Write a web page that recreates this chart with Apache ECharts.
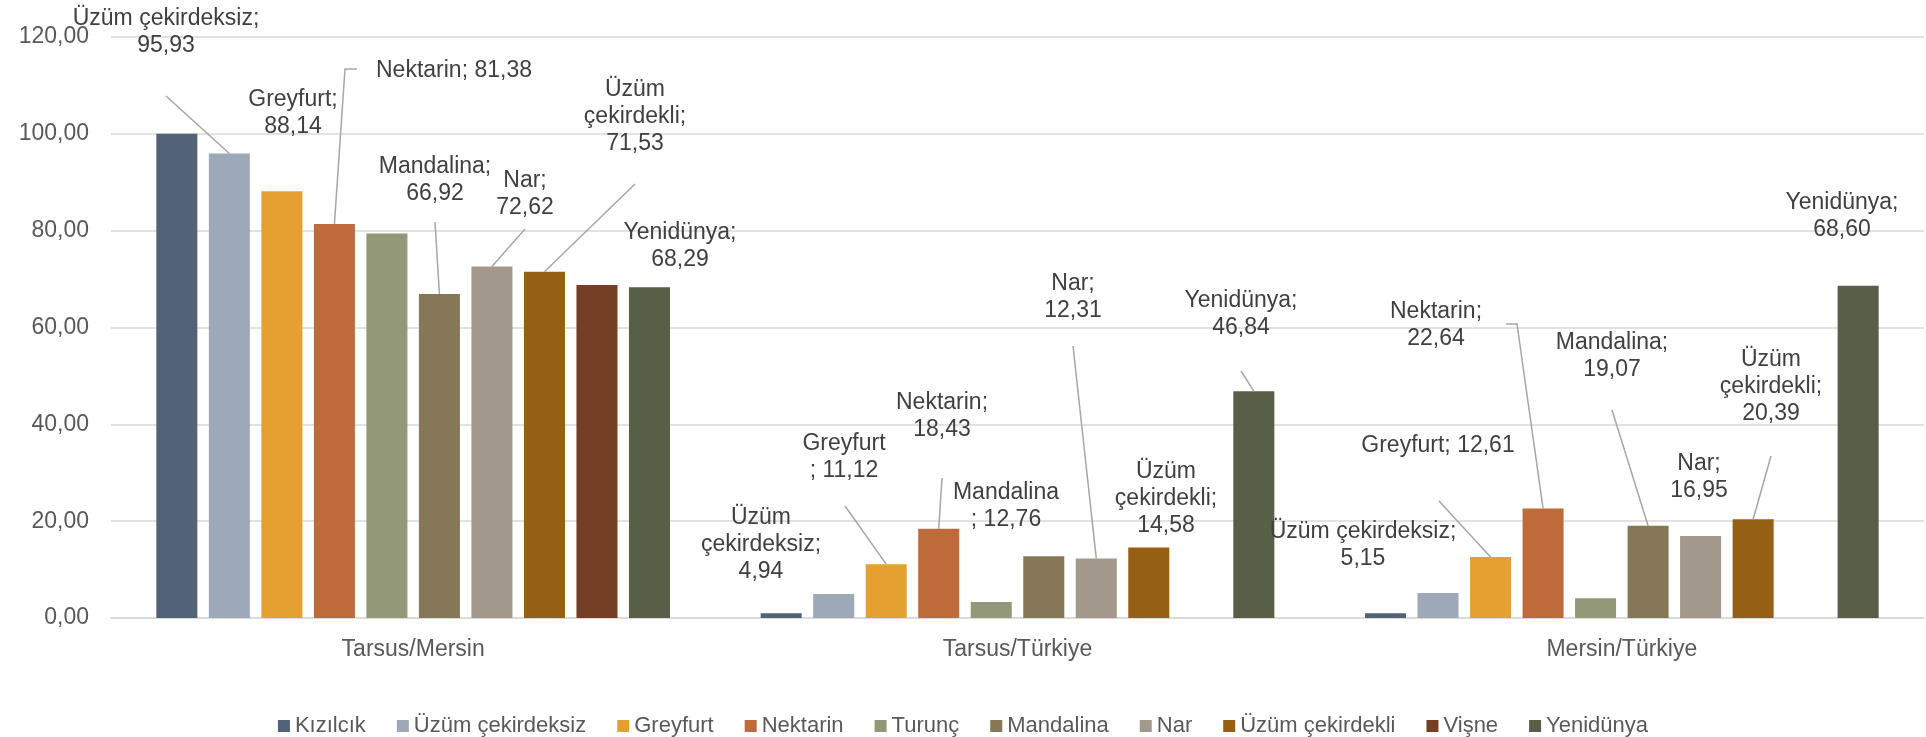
<!DOCTYPE html>
<html>
<head>
<meta charset="utf-8">
<script src="https://cdn.jsdelivr.net/npm/echarts@6/dist/echarts.min.js"></script>
<style>
  html, body { margin: 0; padding: 0; background: #fff; }
  #main { width: 1926px; height: 737px; }
</style>
</head>
<body>
<div id="main"></div>
<script>
// kategoriler ve seriler
var regions = ['Tarsus/Mersin', 'Tarsus/Türkiye', 'Mersin/Türkiye'];
var fruits = ['Kızılcık', 'Üzüm çekirdeksiz', 'Greyfurt', 'Nektarin', 'Turunç',
  'Mandalina', 'Nar', 'Üzüm çekirdekli', 'Vişne', 'Yenidünya'];

var kizilcik = [100, 1.0, 1.0];
var uzumCekirdeksiz = [95.93, 4.94, 5.15];
var greyfurt = [88.14, 11.12, 12.61];
var nektarin = [81.38, 18.43, 22.64];
var turunc = [79.4, 3.3, 4.1];
var mandalina = [66.92, 12.76, 19.07];
var nar = [72.62, 12.31, 16.95];
var uzumCekirdekli = [71.53, 14.58, 20.39];
var visne = [68.8, null, null];
var yenidunya = [68.29, 46.84, 68.60];

var yTicks = [0, 20, 40, 60, 80, 100, 120];

var seriesValues = [kizilcik, uzumCekirdeksiz, greyfurt, nektarin, turunc,
  mandalina, nar, uzumCekirdekli, visne, yenidunya];
var colors = ['#536377', '#9DA9B8', '#E5A12F', '#BE6A3B', '#929878',
  '#867759', '#A2998C', '#956013', '#743F25', '#595E46'];

// etiket yerleşimi (Excel'deki elle taşınmış etiketler)
// f: seri, c: kategori, t: metin şablonu, x/y: etiket merkezi, from: çizgi başlangıcı
var spots = [
  { f: 1, c: 0, t: '{n};\n{v}', x: 166, y: 32, from: [[166, 96]] },
  { f: 2, c: 0, t: '{n};\n{v}', x: 293, y: 113 },
  { f: 3, c: 0, t: '{n}; {v}', x: 454, y: 71, from: [[357, 69], [345, 69]] },
  { f: 5, c: 0, t: '{n};\n{v}', x: 435, y: 180, from: [[435, 222]] },
  { f: 6, c: 0, t: '{n};\n{v}', x: 525, y: 194, from: [[525, 229]] },
  { f: 7, c: 0, t: '{a}\n{b};\n{v}', x: 635, y: 117, from: [[635, 184]] },
  { f: 9, c: 0, t: '{n};\n{v}', x: 680, y: 246 },

  { f: 1, c: 1, t: '{a}\n{b};\n{v}', x: 761, y: 545 },
  { f: 2, c: 1, t: '{n}\n; {v}', x: 844, y: 457, from: [[845, 506]] },
  { f: 3, c: 1, t: '{n};\n{v}', x: 942, y: 416, from: [[942, 478]] },
  { f: 5, c: 1, t: '{n}\n; {v}', x: 1006, y: 506 },
  { f: 6, c: 1, t: '{n};\n{v}', x: 1073, y: 297, from: [[1073, 346]] },
  { f: 7, c: 1, t: '{a}\n{b};\n{v}', x: 1166, y: 499 },
  { f: 9, c: 1, t: '{n};\n{v}', x: 1241, y: 314, from: [[1241, 371]] },

  { f: 1, c: 2, t: '{n};\n{v}', x: 1363, y: 545 },
  { f: 2, c: 2, t: '{n}; {v}', x: 1438, y: 446, from: [[1439, 501]] },
  { f: 3, c: 2, t: '{n};\n{v}', x: 1436, y: 325, from: [[1506, 324], [1517, 324]] },
  { f: 5, c: 2, t: '{n};\n{v}', x: 1612, y: 356, from: [[1612, 410]] },
  { f: 6, c: 2, t: '{n};\n{v}', x: 1699, y: 477 },
  { f: 7, c: 2, t: '{a}\n{b};\n{v}', x: 1771, y: 387, from: [[1771, 456]] },
  { f: 9, c: 2, t: '{n};\n{v}', x: 1842, y: 216 }
];

var FONT = 'Liberation Sans, Arial, sans-serif';

function fmtNum(v) {
  return v.toFixed(2).replace('.', ',');
}

function labelText(sp) {
  var name = fruits[sp.f];
  var parts = name.split(' ');
  return sp.t.replace('{n}', name)
    .replace('{a}', parts[0])
    .replace('{b}', parts.slice(1).join(' '))
    .replace('{v}', fmtNum(seriesValues[sp.f][sp.c]));
}

var spotMap = {};
spots.forEach(function (sp) { spotMap[sp.f + '-' + sp.c] = sp; });

var series = fruits.map(function (name, si) {
  return {
    name: name,
    type: 'bar',
    barGap: '28%',
    barCategoryGap: '15%',
    itemStyle: { color: colors[si] },
    data: seriesValues[si].map(function (v, ci) {
      var sp = spotMap[si + '-' + ci];
      if (!sp || v == null) return v;
      return {
        value: v,
        label: {
          show: true,
          formatter: labelText(sp),
          color: '#404040',
          fontSize: 23,
          lineHeight: 27,
          fontFamily: FONT
        }
      };
    }),
    labelLayout: function (p) {
      var sp = spotMap[p.seriesIndex + '-' + p.dataIndex];
      if (!sp) return {};
      return { x: sp.x, y: sp.y, align: 'center', verticalAlign: 'middle' };
    }
  };
});

var chart = echarts.init(document.getElementById('main'));
chart.setOption({
  animation: false,
  color: colors,
  grid: { left: 111, right: 2, top: 37, bottom: 119 },
  legend: {
    data: fruits,
    left: 'center',
    top: 710,
    itemWidth: 12,
    itemHeight: 12,
    itemGap: 31,
    icon: 'rect',
    textStyle: { color: '#595959', fontSize: 22, fontFamily: FONT }
  },
  xAxis: {
    type: 'category',
    data: regions,
    axisLine: { lineStyle: { color: '#d9d9d9', width: 1.5 } },
    axisTick: { show: false },
    axisLabel: { color: '#595959', fontSize: 23, fontFamily: FONT, margin: 20 }
  },
  yAxis: {
    type: 'value',
    min: yTicks[0],
    max: yTicks[yTicks.length - 1],
    interval: yTicks[1] - yTicks[0],
    axisLine: { show: false },
    axisTick: { show: false },
    splitLine: { lineStyle: { color: '#d9d9d9', width: 1.5 } },
    axisLabel: {
      color: '#595959', fontSize: 23, fontFamily: FONT, margin: 22,
      formatter: function (v) { return fmtNum(v); }
    }
  },
  series: series
});

// bağlantı çizgileri: etiketten çubuğun üst ortasına
var lines = [];
spots.forEach(function (sp) {
  if (!sp.from) return;
  var lay = chart.getModel().getSeriesByIndex(sp.f).getData().getItemLayout(sp.c);
  var top = [lay.x + lay.width / 2, lay.y + lay.height];
  lines.push({
    type: 'polyline',
    silent: true,
    z: 10,
    shape: { points: sp.from.concat([top]) },
    style: { stroke: '#a6a6a6', lineWidth: 1.5, fill: null }
  });
});
chart.setOption({ graphic: lines });
</script>
</body>
</html>
